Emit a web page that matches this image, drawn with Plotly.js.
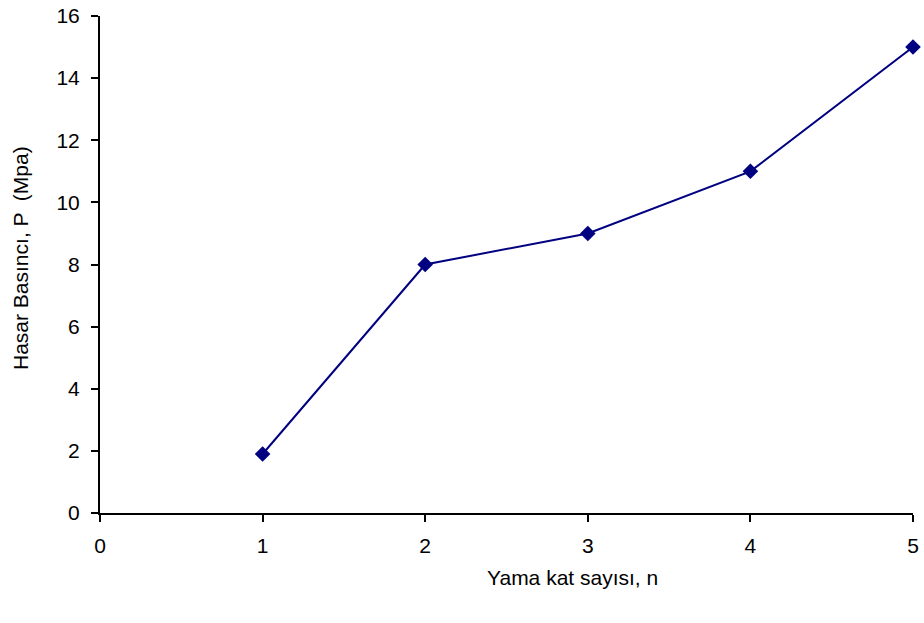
<!DOCTYPE html>
<html><head><meta charset="utf-8">
<script src="https://cdn.plot.ly/plotly-3.0.1.min.js"></script>
<style>html,body{margin:0;padding:0;background:#fff}#chart{width:924px;height:623px}</style>
</head><body><div id="chart"></div>
<script>
var layerCounts = [1, 2, 3, 4, 5];
var failurePressure = [1.9, 8, 9, 11, 15];
var xTickValues = [0, 1, 2, 3, 4, 5];
var yTickValues = [0, 2, 4, 6, 8, 10, 12, 14, 16];
var xTitle = 'Yama kat sayısı, n';
var yTitle = 'Hasar Basıncı, P  (Mpa)';

var trace = {
  x: layerCounts, y: failurePressure, type: 'scatter', mode: 'lines+markers',
  line: {color: '#000080', width: 2},
  marker: {symbol: 'diamond', size: 12, color: '#000080'},
  showlegend: false, cliponaxis: false
};
var font = {family: 'Liberation Sans, Arial, sans-serif', size: 21, color: '#000'};
var layout = {
  width: 924, height: 623,
  margin: {l: 100, r: 11, t: 16, b: 110},
  paper_bgcolor: '#fff', plot_bgcolor: '#fff',
  font: font,
  xaxis: {
    range: [0, 5], tickvals: xTickValues, ticktext: xTickValues.map(String),
    showgrid: false, zeroline: false, showline: true, linecolor: '#000', linewidth: 2,
    ticks: 'outside', ticklen: 7, tickwidth: 2, tickcolor: '#000',
    tickfont: font, ticklabelstandoff: 6
  },
  yaxis: {
    range: [0, 16], tickvals: yTickValues, ticktext: yTickValues.map(String),
    showgrid: false, zeroline: false, showline: true, linecolor: '#000', linewidth: 2,
    ticks: 'outside', ticklen: 7, tickwidth: 2, tickcolor: '#000',
    tickfont: font, ticklabelstandoff: 7
  },
  annotations: [
    {text: xTitle, xref: 'paper', yref: 'paper', x: (572 - 100) / 813, y: (513 - 577) / 497,
     xanchor: 'center', yanchor: 'middle', showarrow: false, font: font},
    {text: yTitle, xref: 'paper', yref: 'paper', x: (20 - 100) / 813, y: (513 - 258) / 497,
     xanchor: 'center', yanchor: 'middle', textangle: -90, showarrow: false, font: font}
  ]
};
Plotly.newPlot('chart', [trace], layout, {displayModeBar: false, staticPlot: true});
</script></body></html>
